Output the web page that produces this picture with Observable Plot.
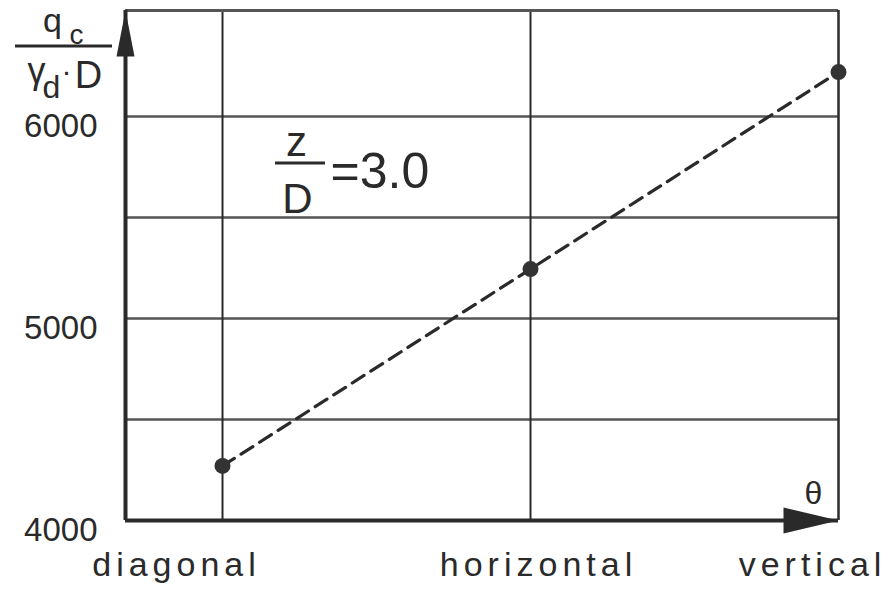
<!DOCTYPE html>
<html><head><meta charset="utf-8">
<script src="https://cdn.jsdelivr.net/npm/d3@7"></script>
<script src="https://cdn.jsdelivr.net/npm/@observablehq/plot@0.6"></script>
<style>body{margin:0;background:#fff} svg{display:block}</style>
</head><body><div id="chart"></div>
<script>
const categories = ["diagonal", "horizontal", "vertical"];
const qValues = [4270, 5245, 6220];
const yTicks = [4000, 5000, 6000];
const yGrid = [4500, 5000, 5500, 6000];
const yDomain = [4000, 6525];
const xDomain = [-0.315, 2];
const labelDx = [-46, 8, -26];

const data = categories.map((c, i) => ({pos: i, cat: c, q: qValues[i]}));

const arrowUp = {draw(ctx) { ctx.moveTo(0, 0); ctx.lineTo(9, 46); ctx.lineTo(-9, 46); ctx.closePath(); }};
const arrowRight = {draw(ctx) { ctx.moveTo(0, 0); ctx.lineTo(-55, 13); ctx.lineTo(-55, -13); ctx.closePath(); }};

const ink = "#2a2a2a";
const grid = "#555";
const font = "Liberation Sans";

const txt = (s, o) => Plot.text([s], {frameAnchor: "top-left", lineAnchor: "bottom", fill: ink, ...o});

const svg = Plot.plot({
  width: 894, height: 593,
  marginLeft: 125, marginRight: 56, marginTop: 10, marginBottom: 73,
  style: {fontFamily: font, background: "#fff", color: ink},
  x: {type: "linear", domain: xDomain, axis: null},
  y: {type: "linear", domain: yDomain, axis: null},
  marks: [
    Plot.ruleY(yGrid, {stroke: grid, strokeWidth: 2.5}),
    Plot.ruleX([0, 1], {stroke: ink, strokeWidth: 2}),
    Plot.ruleY([yDomain[1]], {stroke: grid, strokeWidth: 3}),
    Plot.ruleX([xDomain[1]], {stroke: ink, strokeWidth: 2.5}),
    Plot.ruleY([yDomain[0]], {stroke: ink, strokeWidth: 4}),
    Plot.ruleX([xDomain[0]], {stroke: ink, strokeWidth: 4}),
    Plot.dot([0], {x: () => xDomain[0], y: () => yDomain[1], symbol: arrowUp, fill: ink, stroke: "none"}),
    Plot.dot([0], {x: () => xDomain[1], y: () => yDomain[0], symbol: arrowRight, fill: ink, stroke: "none"}),
    Plot.line(data, {x: "pos", y: "q", stroke: ink, strokeWidth: 3.2, strokeDasharray: "14,8"}),
    Plot.dot(data, {x: "pos", y: "q", r: 8, fill: "#333", stroke: "none"}),
    Plot.axisY({ticks: yTicks, tickSize: 0, tickPadding: 28, fontSize: 33, dy: 10, tickFormat: d3.format("d"), label: null, fill: ink}),
    ...categories.map((c, i) => Plot.axisX({ticks: [i], tickSize: 0, tickPadding: 31, fontSize: 34, dx: labelDx[i], tickFormat: j => categories[j], label: null, fill: ink})),
    txt("q", {dx: -73, dy: 21, fontSize: 34, textAnchor: "middle"}),
    txt("c", {dx: -49, dy: 33, fontSize: 28, textAnchor: "middle"}),
    txt("γ", {dx: -89, dy: 72, fontSize: 36, textAnchor: "middle"}),
    txt("d", {dx: -74, dy: 87, fontSize: 32, textAnchor: "middle"}),
    txt("·", {dx: -59, dy: 70, fontSize: 30, textAnchor: "middle"}),
    txt("D", {dx: -37, dy: 77, fontSize: 38, textAnchor: "middle"}),
    txt("z", {dx: 171, dy: 145, fontSize: 42, textAnchor: "middle"}),
    txt("D", {dx: 172, dy: 202, fontSize: 42, textAnchor: "middle"}),
    txt("=3.0", {dx: 205, dy: 177, fontSize: 50, textAnchor: "start"}),
    txt("θ", {dx: 688, dy: 493, fontSize: 32, textAnchor: "middle"})
  ]
});

const s = d3.select(svg);
s.selectAll('g[aria-label="x-axis tick label"] text').attr("letter-spacing", 5);
s.append("line").attr("x1", 15).attr("x2", 112).attr("y1", 46).attr("y2", 46)
  .attr("stroke", ink).attr("stroke-width", 3);
s.append("line").attr("x1", 275).attr("x2", 325).attr("y1", 163).attr("y2", 163)
  .attr("stroke", ink).attr("stroke-width", 3);

document.getElementById("chart").appendChild(svg);
</script>
</body></html>
